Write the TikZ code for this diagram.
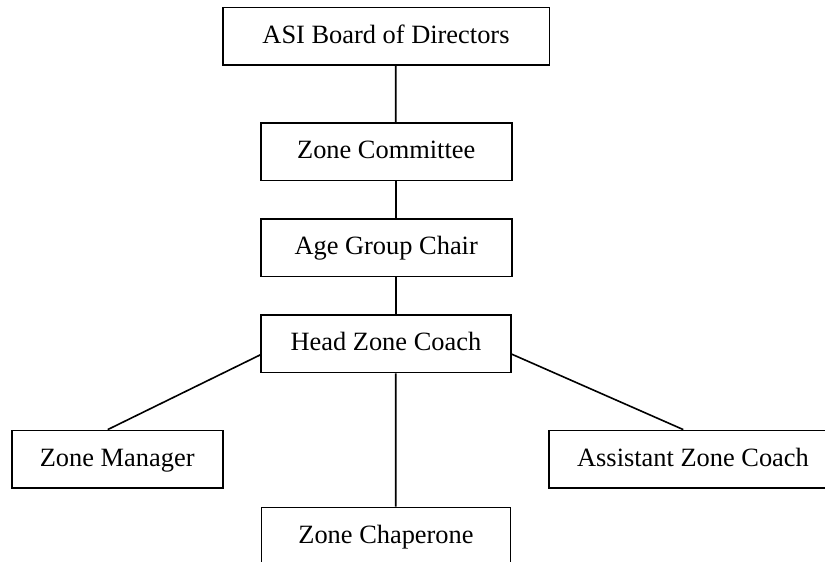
\documentclass[tikz,border=0pt]{standalone}
\usepackage{fontspec}
\setmainfont{Liberation Serif}
\usetikzlibrary{positioning}

\begin{document}
\begin{tikzpicture}[x=0.5pt, y=-0.5pt,
		rolebox/.style={draw, line width=0.8pt, minimum height=28.8pt, inner sep=0pt,
				text height=9.2pt, text depth=2.2pt,
				font=\fontsize{13.2}{15}\selectfont},
		link/.style={line width=0.8pt}]
			% Page
			\useasboundingbox (0,0) rectangle (825,562);
			\clip (0,0) rectangle (825,562);

			% Boxes
			\node[rolebox, minimum width=163.3pt] (board) at (386,36.2) {ASI Board of Directors};
			\node[rolebox, minimum width=125.5pt] (committee) at (386.2,151.8) {Zone Committee};
			\node[rolebox, minimum width=125.5pt] (agechair) at (386.2,247.8) {Age Group Chair};
			\node[rolebox, minimum width=124.9pt] (headcoach) at (385.9,343.7) {Head Zone Coach};
			\node[rolebox, minimum width=105.5pt] (manager) at (117.2,459.2) {Zone Manager};
			\node[rolebox, minimum width=144pt] (assistant) at (693,459.2) {Assistant Zone Coach};
			\node[rolebox, minimum width=124.5pt] (chaperone) at (386,536.3) {Zone Chaperone};

			% Draw lines
			\draw[link] ([xshift=4.85pt]board.south) -- ([xshift=4.75pt]committee.north);
			\draw[link] ([xshift=4.75pt]committee.south) -- ([xshift=4.75pt]agechair.north);
			\draw[link] ([xshift=4.75pt]agechair.south) -- ([xshift=4.9pt]headcoach.north);
			\draw[link] ([xshift=4.9pt]headcoach.south) -- ([xshift=4.85pt]chaperone.north);
			\draw[link] ([yshift=-5.6pt]headcoach.west) -- ([xshift=-4.75pt]manager.north);
			\draw[link] ([yshift=-5.2pt]headcoach.east) -- ([xshift=-4.85pt]assistant.north);
		\end{tikzpicture}
\end{document}
